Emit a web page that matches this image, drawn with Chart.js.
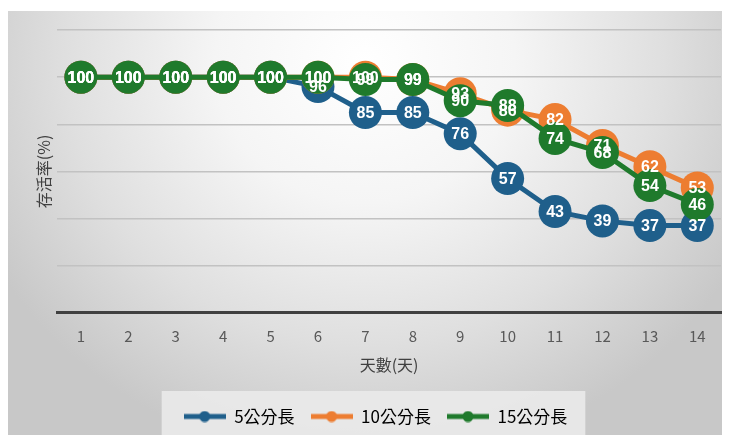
<!DOCTYPE html>
<html lang="zh-Hant">
<head>
  <meta charset="UTF-8" />
  <title>存活率</title>
  <script src="https://cdn.jsdelivr.net/npm/chart.js"></script>
  <style>
    html, body { margin: 0; padding: 0; background: #fff; }
    #wrap { position: relative; width: 729px; height: 435px; }
    #panel {
      position: absolute; left: 8px; top: 11px; width: 714px; height: 424px;
      background: radial-gradient(ellipse 60% 95% at 50% 12%, #ffffff 0%, #f5f5f5 35%, #dfdfdf 70%, #c8c8c8 100%);
    }
    #chart { position: absolute; left: 0; top: 0; }
  </style>
</head>
<body>
  <div id="wrap">
    <div id="panel"></div>
    <canvas id="chart" width="729" height="435"></canvas>
  </div>
  <script>
    // 天數與三組長度的存活率
    const days = ['1', '2', '3', '4', '5', '6', '7', '8', '9', '10', '11', '12', '13', '14'];
    const len5 = [100, 100, 100, 100, 100, 96, 85, 85, 76, 57, 43, 39, 37, 37];
    const len10 = [100, 100, 100, 100, 100, 100, 100, 99, 93, 86, 82, 71, 62, 53];
    const len15 = [100, 100, 100, 100, 100, 100, 99, 99, 90, 88, 74, 68, 54, 46];
    const seriesNames = ['5公分長', '10公分長', '15公分長'];
    const seriesColors = ['#1f5f8b', '#ed7d31', '#1f7a2c'];

    const cjk = '"Liberation Sans Narrow", "Noto Sans CJK TC", sans-serif';

    // legend symbol: short thick line with a dot in the middle
    function legendIcon(color) {
      const c = document.createElement('canvas');
      c.width = 42; c.height = 12;
      const g = c.getContext('2d');
      g.strokeStyle = color; g.lineWidth = 5;
      g.beginPath(); g.moveTo(0, 6); g.lineTo(42, 6); g.stroke();
      g.fillStyle = color;
      g.beginPath(); g.arc(21, 6, 5.5, 0, Math.PI * 2); g.fill();
      return c;
    }
    const icons = seriesColors.map(legendIcon);

    // white value text on top of every marker
    const valueLabels = {
      id: 'valueLabels',
      afterDatasetsDraw(chart) {
        const ctx = chart.ctx;
        ctx.save();
        ctx.font = 'bold 16px "Liberation Sans", Arial, sans-serif';
        ctx.fillStyle = '#ffffff';
        ctx.textAlign = 'center';
        ctx.textBaseline = 'middle';
        chart.data.datasets.forEach((ds, i) => {
          chart.getDatasetMeta(i).data.forEach((pt, j) => {
            ctx.fillText(String(ds.data[j]), pt.x, pt.y + 1);
          });
        });
        ctx.restore();
      }
    };

    // light box behind the legend
    const legendBox = {
      id: 'legendBox',
      beforeDraw(chart) {
        const boxes = chart.legend && chart.legend.legendHitBoxes;
        if (!boxes || !boxes.length) return;
        const first = boxes[0], last = boxes[boxes.length - 1];
        const ctx = chart.ctx;
        ctx.save();
        ctx.fillStyle = 'rgba(234,234,234,0.9)';
        ctx.fillRect(first.left - 22, chart.legend.top - 1, last.left + last.width - first.left + 40, chart.height);
        ctx.restore();
      }
    };

    new Chart(document.getElementById('chart'), {
      type: 'line',
      data: {
        labels: days,
        datasets: seriesNames.map((name, i) => ({
          label: name,
          data: [len5, len10, len15][i],
          borderColor: seriesColors[i],
          backgroundColor: seriesColors[i],
          borderWidth: 5,
          pointRadius: 16.5,
          pointHoverRadius: 16.5,
          pointBorderWidth: 0,
          order: 3 - i,
          fill: false
        }))
      },
      options: {
        responsive: false,
        animation: false,
        layout: { autoPadding: false, padding: { top: 30, right: 8, left: 30, bottom: 0 } },
        scales: {
          x: {
            offset: true,
            grid: { display: false, drawTicks: false },
            border: { display: true, color: '#404040', width: 3 },
            ticks: { color: '#595959', font: { size: 15, family: cjk }, padding: 14 },
            title: {
              display: true, text: '天數(天)', color: '#404040',
              font: { size: 16, family: cjk }, padding: { top: -3, bottom: 17 }
            }
          },
          y: {
            min: 0, max: 120,
            grid: { color: '#c2c2c2', lineWidth: 1.5, drawTicks: false },
            border: { display: false },
            ticks: { display: false, stepSize: 20 },
            title: {
              display: true, text: '存活率(%)', color: '#404040',
              font: { size: 16, family: cjk }, padding: { top: 4, bottom: 4 }
            }
          }
        },
        plugins: {
          legend: {
            position: 'bottom',
            labels: {
              color: '#595959',
              font: { size: 17, family: cjk },
              usePointStyle: true,
              pointStyleWidth: 42,
              boxHeight: 12,
              padding: 16,
              generateLabels: () => seriesNames.map((name, i) => ({
                text: name,
                pointStyle: icons[i],
                fillStyle: seriesColors[i],
                strokeStyle: seriesColors[i],
                lineWidth: 0,
                hidden: false,
                datasetIndex: i
              }))
            }
          },
          tooltip: { enabled: false }
        }
      },
      plugins: [legendBox, valueLabels]
    });
  </script>
</body>
</html>
